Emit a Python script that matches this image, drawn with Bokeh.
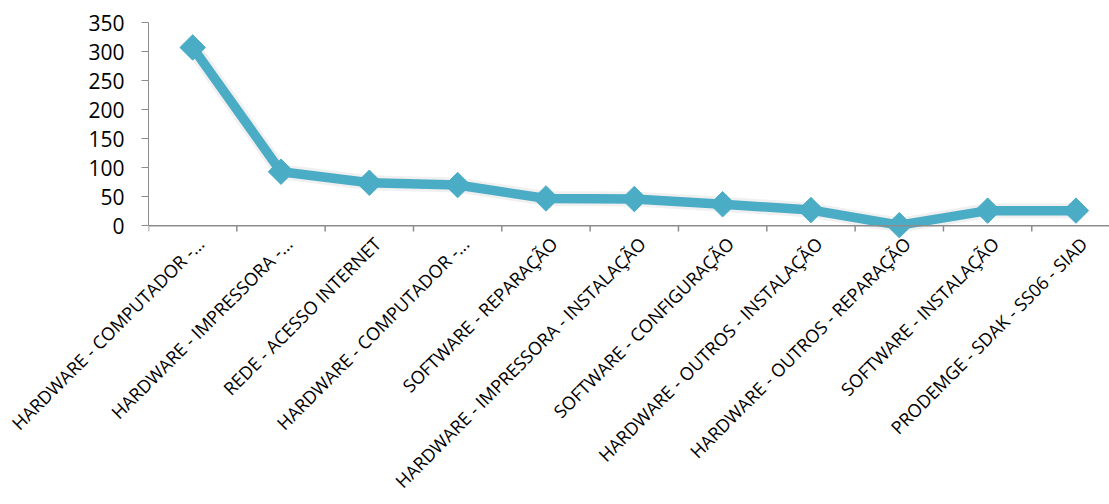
import numpy as np
from bokeh.plotting import figure
from bokeh.models import FixedTicker, Range1d, ColumnDataSource, Span, LinearAxis
from bokeh.embed import file_html
from bokeh.resources import INLINE

categories = [
    "HARDWARE - COMPUTADOR -...",
    "HARDWARE - IMPRESSORA -...",
    "REDE - ACESSO INTERNET",
    "HARDWARE - COMPUTADOR -...",
    "SOFTWARE - REPARAÇÃO",
    "HARDWARE - IMPRESSORA - INSTALAÇÃO",
    "SOFTWARE - CONFIGURAÇÃO",
    "HARDWARE - OUTROS - INSTALAÇÃO",
    "HARDWARE - OUTROS - REPARAÇÃO",
    "SOFTWARE - INSTALAÇÃO",
    "PRODEMGE - SDAK - SS06 - SIAD",
]
values = [307, 93, 74, 70, 47, 46, 37, 27, 1, 26, 26]
y_ticks = [0, 50, 100, 150, 200, 250, 300, 350]

FONT = "Open Sans"
LINE_COLOR = "#4BACC6"
AXIS_COLOR = "#8C8C8C"

n = len(categories)
xs = np.arange(n) + 0.5
src = ColumnDataSource(dict(x=xs, y=values))

XMAX = 10.88
LABEL_SHIFT = 0.09  # shift labels slightly right, like the original
p = figure(width=1109, height=504, output_backend="svg", toolbar_location=None,
           x_range=Range1d(0, XMAX), y_range=Range1d(-22, 350),
           x_axis_location=None,
           min_border_left=148, min_border_right=0, min_border_top=22,
           min_border_bottom=265)
p.extra_x_ranges = {"lab": Range1d(-LABEL_SHIFT, XMAX - LABEL_SHIFT)}
p.outline_line_color = None
p.grid.visible = False
p.background_fill_color = "white"

# category axis line at zero and boundary ticks
p.add_layout(Span(location=0, dimension="width", line_color=AXIS_COLOR, line_width=1.5))
bounds = np.arange(n + 1)
p.segment(x0=bounds, y0=np.zeros(n + 1), x1=bounds, y1=np.full(n + 1, -10.0),
          line_color=AXIS_COLOR, line_width=1.5)

# soft shadow
p.line("x", "y", source=src, line_color="#000000", line_alpha=0.06, line_width=15)
p.line("x", "y", source=src, line_color=LINE_COLOR, line_width=9.5, line_join="miter")
p.scatter("x", "y", source=src, marker="square", angle=np.pi / 4, size=18,
          fill_color=LINE_COLOR, line_color=LINE_COLOR)

# y axis
yax = p.yaxis[0]
yax.ticker = FixedTicker(ticks=y_ticks, minor_ticks=[])
yax.bounds = (0, 350)
yax.axis_line_color = AXIS_COLOR
yax.major_tick_line_color = AXIS_COLOR
yax.major_tick_out = 7
yax.major_tick_in = 0
yax.minor_tick_line_color = None
yax.major_label_standoff = 17
yax.major_label_text_font = FONT
yax.major_label_text_font_size = "21px"
yax.major_label_text_color = "#000000"

# x axis (labels only)
xax = LinearAxis(x_range_name="lab")
xax.ticker = FixedTicker(ticks=list(xs), minor_ticks=[])
xax.major_label_overrides = {float(x): c for x, c in zip(xs, categories)}
xax.major_label_orientation = np.pi / 4
xax.axis_line_color = None
xax.major_tick_line_color = None
xax.minor_tick_line_color = None
xax.major_tick_out = 0
xax.major_label_standoff = 2
xax.major_label_text_font = FONT
xax.major_label_text_font_size = "18px"
xax.major_label_text_color = "#000000"
p.add_layout(xax, "below")

open("out.html", "w").write(file_html(p, INLINE))
